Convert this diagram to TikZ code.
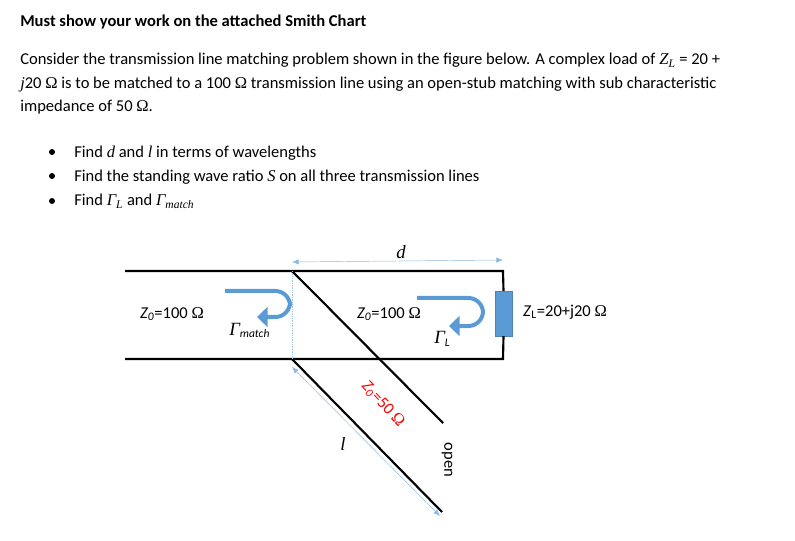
\documentclass[tikz,border=0pt]{standalone}
\usepackage{fontspec}
\setmainfont{Carlito}
\newfontfamily\cambria{Liberation Serif}
\usetikzlibrary{arrows.meta}
\newcommand{\mth}[1]{{\cambria\itshape #1}}
\newcommand{\ohm}{{\cambria Ω}}
\newcommand{\zo}{\textit{Z\textsubscript{0}}}
\definecolor{dimblue}{RGB}{91,155,213}
\definecolor{reflblue}{RGB}{91,155,213}
\tikzset{
	txt/.style={anchor=base west,inner sep=0pt,font=\fontsize{12.4}{15}\selectfont},
	lbl/.style={inner sep=0pt,font=\fontsize{12.4}{15}\selectfont},
	wire/.style={line width=1.6pt,black},
	dim/.style={line width=0.35pt,color=dimblue!70,{Latex[length=5pt,width=4pt]}-{Latex[length=5pt,width=4pt]}},
	guide/.style={line width=0.3pt,color=dimblue!60,densely dotted},
	refl/.style={line width=3pt,color=reflblue,rounded corners=11pt,-{Triangle[length=8pt,width=15pt]}}
}
\begin{document}
\begin{tikzpicture}[x=0.75pt,y=-0.75pt]
	\useasboundingbox (0,0) rectangle (795,541);
	% text
	\node[txt,font=\fontsize{12.4}{15}\selectfont\bfseries] (title) at (20,27) {Must show your work on the attached Smith Chart};
	\node[txt] (lineA) at (20,65) {Consider the transmission line matching problem shown in the figure below. A complex load of \mth{Z\textsubscript{L}} = 20 +};
	\node[txt] (lineB) at (20,89) {\mth{j}20 \ohm\ is to be matched to a 100 \ohm\ transmission line using an open-stub matching with sub characteristic};
	\node[txt] (lineC) at (20,112) {impedance of 50 \ohm.};
	\foreach \y in {152,176,201}
		\fill (52,\y) circle (3);
	\node[txt] (findA) at (74,158) {Find \mth{d} and \mth{l} in terms of wavelengths};
	\node[txt] (findB) at (74,182) {Find the standing wave ratio \mth{S} on all three transmission lines};
	\node[txt] (findC) at (74,206) {Find \mth{Γ\textsubscript{L}} and \mth{Γ\textsubscript{match}}};
	% line ends
	\coordinate (topL) at (125,271);
	\coordinate (topJ) at (292,271);
	\coordinate (topR) at (503,271);
	\coordinate (botL) at (125,359);
	\coordinate (botJ) at (292,359);
	\coordinate (botR) at (503,359);
	\coordinate (stubA) at (443,423);
	\coordinate (stubB) at (442,512);
	% load
	\node[draw=reflblue!85!black,line width=0.3pt,fill=reflblue,minimum width=12.75pt,minimum height=33.75pt,inner sep=0pt] (load) at (503.5,313.5) {};
	% lines
	\draw[wire] (topL) -- (topR) -- (load.north);
	\draw[wire] (botL) -- (botR) -- (load.south);
	\draw[wire] (topJ) -- (stubA);
	\draw[wire] (botJ) -- (stubB);
	\draw[guide] (topJ) -- (botJ);
	% lengths
	\coordinate (dA) at (292,262);
	\coordinate (dB) at (503,260);
	\coordinate (lA) at (292,367);
	\coordinate (lB) at (440,516);
	\draw[dim] (dA) -- (dB);
	\draw[dim] (lA) -- (lB);
	\node[lbl,font=\fontsize{14}{16}\selectfont] (dLbl) at (401,252) {\mth{d}};
	\node[lbl,font=\fontsize{14}{16}\selectfont] (lLbl) at (343,444) {\mth{l}};
	% reflections
	\coordinate (reA) at (225,291);
	\coordinate (reB) at (290,291);
	\coordinate (reC) at (290,317);
	\coordinate (reD) at (257,317);
	\coordinate (rfA) at (417,298);
	\coordinate (rfB) at (483,298);
	\coordinate (rfC) at (483,326);
	\coordinate (rfD) at (449,326);
	\draw[refl] (reA) -- (reB) -- (reC) -- (reD);
	\draw[refl] (rfA) -- (rfB) -- (rfC) -- (rfD);
	% labels
	\node[lbl] (zoA) at (172,314) {\zo=100 \ohm};
	\node[lbl] (zoB) at (389,314) {\zo=100 \ohm};
	\node[lbl] (zoL) at (565,312) {\textit{Z}\textsubscript{L}=20+j20 \ohm};
	\node[lbl,text=red,rotate=-47] (zoS) at (383,404) {\zo=50 \ohm};
	\node[lbl,rotate=-90] (openLbl) at (447,460) {open};
	\node[lbl,anchor=base west] (gamA) at (229,335) {\mth{\fontsize{14}{16}\selectfont Γ}\textsubscript{\textit{match}}};
	\node[lbl,anchor=base west] (gamB) at (434,344) {\mth{\fontsize{14}{16}\selectfont Γ}\textsubscript{\textit{L}}};
\end{tikzpicture}
\end{document}
